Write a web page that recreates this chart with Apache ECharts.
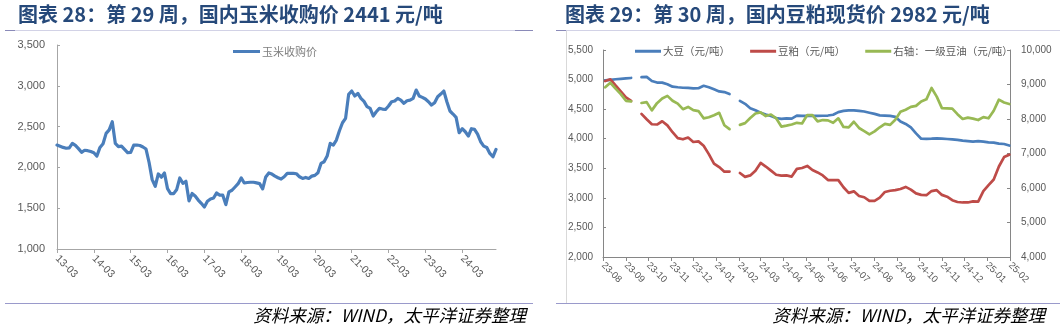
<!DOCTYPE html>
<html>
<head>
<meta charset="utf-8">
<script src="https://cdn.jsdelivr.net/npm/echarts@6/dist/echarts.min.js"></script>
<style>
html, body { margin: 0; padding: 0; background: #ffffff; }
#chart { width: 1060px; height: 331px; }
</style>
</head>
<body>
<div id="chart"></div>
<script>
// ---- Corn purchase price, monthly, 2013-03 .. 2025-02 ----
const cornMonths = [
  '13-03','13-04','13-05','13-06','13-07','13-08','13-09','13-10','13-11','13-12','14-01','14-02',
  '14-03','14-04','14-05','14-06','14-07','14-08','14-09','14-10','14-11','14-12','15-01','15-02',
  '15-03','15-04','15-05','15-06','15-07','15-08','15-09','15-10','15-11','15-12','16-01','16-02',
  '16-03','16-04','16-05','16-06','16-07','16-08','16-09','16-10','16-11','16-12','17-01','17-02',
  '17-03','17-04','17-05','17-06','17-07','17-08','17-09','17-10','17-11','17-12','18-01','18-02',
  '18-03','18-04','18-05','18-06','18-07','18-08','18-09','18-10','18-11','18-12','19-01','19-02',
  '19-03','19-04','19-05','19-06','19-07','19-08','19-09','19-10','19-11','19-12','20-01','20-02',
  '20-03','20-04','20-05','20-06','20-07','20-08','20-09','20-10','20-11','20-12','21-01','21-02',
  '21-03','21-04','21-05','21-06','21-07','21-08','21-09','21-10','21-11','21-12','22-01','22-02',
  '22-03','22-04','22-05','22-06','22-07','22-08','22-09','22-10','22-11','22-12','23-01','23-02',
  '23-03','23-04','23-05','23-06','23-07','23-08','23-09','23-10','23-11','23-12','24-01','24-02',
  '24-03','24-04','24-05','24-06','24-07','24-08','24-09','24-10','24-11','24-12','25-01','25-02'
];
const cornPrice = [
  2274, 2260, 2245, 2235, 2240, 2294, 2270, 2230, 2185, 2210, 2205, 2195,
  2180, 2139, 2245, 2290, 2417, 2460, 2560, 2294, 2255, 2260, 2220, 2180,
  2185, 2274, 2274, 2268, 2250, 2225, 2060, 1850, 1769, 1920, 1880, 1932,
  1740, 1679, 1679, 1730, 1871, 1805, 1830, 1590, 1680, 1650, 1600, 1560,
  1515, 1585, 1613, 1625, 1687, 1660, 1660, 1544, 1700, 1720, 1760, 1800,
  1871, 1809, 1815, 1818, 1818, 1810, 1801, 1736, 1883, 1932, 1918, 1893,
  1873, 1857, 1885, 1926, 1926, 1926, 1922, 1885, 1865, 1877, 1865, 1893,
  1902, 1934, 2049, 2069, 2139, 2294, 2274, 2335, 2449, 2547, 2601, 2895,
  2936, 2875, 2907, 2846, 2809, 2744, 2723, 2630, 2682, 2723, 2715, 2710,
  2752, 2805, 2813, 2846, 2825, 2785, 2817, 2825, 2846, 2948, 2875, 2858,
  2838, 2805, 2764, 2793, 2866, 2899, 2936, 2805, 2691, 2654, 2613, 2425,
  2474, 2437, 2384, 2474, 2466, 2408, 2314, 2261, 2245, 2171, 2130, 2220
];
const cornYTicks = [1000, 1500, 2000, 2500, 3000, 3500];

// ---- Soybean complex spot prices, weekly (null = no quote that week) ----
const weekDates = [
  '2023-08-04','2023-08-11','2023-08-18','2023-08-25','2023-09-01','2023-09-08','2023-09-15','2023-09-22',
  '2023-09-29','2023-10-06','2023-10-13','2023-10-20','2023-10-27','2023-11-03','2023-11-10','2023-11-17',
  '2023-11-24','2023-12-01','2023-12-08','2023-12-15','2023-12-22','2023-12-29',
  '2024-01-05','2024-01-12','2024-01-19','2024-01-26','2024-02-02','2024-02-09','2024-02-16','2024-02-23',
  '2024-03-01','2024-03-08','2024-03-15','2024-03-22','2024-03-29','2024-04-05','2024-04-12','2024-04-19',
  '2024-04-26','2024-05-03','2024-05-10','2024-05-17','2024-05-24','2024-05-31','2024-06-07','2024-06-14',
  '2024-06-21','2024-06-28','2024-07-05','2024-07-12','2024-07-19','2024-07-26','2024-08-02','2024-08-09',
  '2024-08-16','2024-08-23','2024-08-30','2024-09-06','2024-09-13','2024-09-20','2024-09-27','2024-10-04',
  '2024-10-11','2024-10-18','2024-10-25','2024-11-01','2024-11-08','2024-11-15','2024-11-22','2024-11-29',
  '2024-12-06','2024-12-13','2024-12-20','2024-12-27',
  '2025-01-03','2025-01-10','2025-01-17','2025-01-24','2025-01-31'
];
const soybean = [
  4985, 4995, 5005, 5012, 5020, 5027, null, 5040, 5045, 4975,
  4950, 4948, 4920, 4880, 4870, 4862, 4858, 4852, 4855, 4895,
  4870, 4835, 4800, 4788, 4755, null, 4640, 4590, 4515, 4480,
  4440, 4410, 4385, 4350, 4335, 4345, 4340, 4390, 4385, 4385,
  4385, 4385, 4388, 4392, 4405, 4450, 4470, 4478, 4480, 4470,
  4460, 4440, 4420, 4395, 4390, 4385, 4370, 4290, 4250, 4190,
  4090, 4000, 3998, 4000, 4005, 4000, 3995, 3990, 3980, 3967,
  3958, 3950, 3958, 3950, 3938, 3933, 3916, 3911, 3885
];
const soyMeal = [
  4975, 5005, 4900, 4800, 4700, 4640, null, 4420, 4330, 4245,
  4240, 4295, 4225, 4110, 4010, 3990, 4020, 3945, 3955, 3880,
  3740, 3580, 3520, 3443, 3445, null, 3420, 3355, 3380, 3460,
  3590, 3530, 3460, 3390, 3375, 3380, 3360, 3490, 3505, 3540,
  3470, 3430, 3380, 3300, 3300, 3300, 3180, 3085, 3110, 3032,
  3010, 2948, 2950, 3005, 3100, 3120, 3130, 3150, 3185, 3140,
  3075, 3050, 3045, 3115, 3130, 3050, 3020, 2960, 2930, 2922,
  2922, 2940, 2935, 3115, 3215, 3310, 3530, 3690, 3730
];
const soyOil = [
  8920, 9050, 8880, 8720, 8528, 8512, null, 8465, 8490, 8250,
  8460, 8595, 8670, 8530, 8445, 8285, 8350, 8255, 8230, 8020,
  8050, 8110, 8180, 7820, 7705, null, 7830, 7880, 8030, 8160,
  8190, 8085, 8130, 8020, 7780, 7808, 7840, 7890, 7870, 8116,
  8110, 7930, 7970, 7960, 7890, 8020, 7770, 7755, 7920, 7740,
  7650, 7555, 7640, 7760, 7860, 7830, 7980, 8210, 8270, 8350,
  8380, 8510, 8570, 8900, 8650, 8315, 8308, 8300, 8140, 8000,
  8040, 8010, 7970, 8055, 8020, 8240, 8560, 8480, 8435
];
const soyLeftTicks = [2000, 2500, 3000, 3500, 4000, 4500, 5000, 5500];
const soyRightTicks = [4000, 5000, 6000, 7000, 8000, 9000, 10000];
const soyRange = ['2023-08-01', '2025-02-01'];

const titleLeft = '图表 28：第 29 周，国内玉米收购价 2441 元/吨';
const titleRight = '图表 29：第 30 周，国内豆粕现货价 2982 元/吨';
const sourceText = '资料来源：WIND，太平洋证券整理';

const BLUE = '#4a7ebb', RED = '#be4b48', GREEN = '#98b954';
const LABEL = '#595959', AXIS = '#a6a6a6';
const FONT = '"Liberation Sans", Arial, sans-serif';
const CJK = '"Noto Sans CJK SC", sans-serif';

const thousands = v => Number(v).toLocaleString('en-US');
const yyMM = v => {
  const d = new Date(v);
  return String(d.getFullYear()).slice(2) + '-' + String(d.getMonth() + 1).padStart(2, '0');
};
const pair = arr => weekDates.map((d, i) => [d, arr[i]]);
const MONTH = 31 * 24 * 3600 * 1000;

function valueAxis(ticks, gridIndex, position, fontSize, margin, axisColor) {
  return {
    type: 'value', gridIndex, position,
    min: ticks[0], max: ticks[ticks.length - 1], interval: ticks[1] - ticks[0],
    splitLine: { show: false },
    axisLine: { show: true, lineStyle: { color: axisColor, width: 1 } },
    axisTick: { show: true, inside: true, length: 3, lineStyle: { color: axisColor } },
    axisLabel: { color: LABEL, fontSize, fontFamily: FONT, margin, formatter: thousands }
  };
}

const chart = echarts.init(document.getElementById('chart'), null, { renderer: 'canvas' });

chart.setOption({
  animation: false,
  backgroundColor: '#ffffff',
  grid: [
    { left: 57, top: 45, width: 439, height: 204 },
    { left: 603, top: 50, width: 407, height: 207 }
  ],
  legend: [
    {
      left: 228, top: 41, icon: 'rect', itemWidth: 27, itemHeight: 3,
      data: ['玉米收购价'],
      textStyle: { color: '#7f7f7f', fontSize: 11, fontFamily: CJK, padding: [0, 0, 0, -3] }
    },
    {
      left: 630, top: 41, icon: 'rect', itemWidth: 26, itemHeight: 3, itemGap: 20,
      data: ['大豆（元/吨）', '豆粕（元/吨）', '右轴：一级豆油（元/吨）'],
      textStyle: { color: LABEL, fontSize: 10.5, fontFamily: CJK, padding: [0, 0, 0, -3] }
    }
  ],
  xAxis: [
    {
      type: 'category', gridIndex: 0, data: cornMonths, boundaryGap: false,
      axisLine: { lineStyle: { color: AXIS } },
      axisTick: { show: true, interval: 11, length: 4, lineStyle: { color: AXIS } },
      axisLabel: { interval: 11, rotate: -45, color: LABEL, fontSize: 10.5, fontFamily: FONT, margin: 8 }
    },
    {
      type: 'time', gridIndex: 1, min: soyRange[0], max: soyRange[1],
      minInterval: MONTH, maxInterval: MONTH,
      splitLine: { show: false },
      axisLine: { lineStyle: { color: '#868686' } },
      axisTick: { show: true, length: 4, lineStyle: { color: '#868686' } },
      axisLabel: { rotate: -45, color: LABEL, fontSize: 9.5, fontFamily: FONT, margin: 7,
                   formatter: yyMM, hideOverlap: false, showMinLabel: true, showMaxLabel: true }
    }
  ],
  yAxis: [
    valueAxis(cornYTicks, 0, 'left', 11, 12, AXIS),
    valueAxis(soyLeftTicks, 1, 'left', 10, 10, '#868686'),
    valueAxis(soyRightTicks, 1, 'right', 10, 11, '#868686')
  ],
  series: [
    {
      name: '玉米收购价', type: 'line', xAxisIndex: 0, yAxisIndex: 0,
      data: cornPrice, showSymbol: false, symbol: 'none',
      color: BLUE, lineStyle: { width: 3.2, color: BLUE, cap: 'round', join: 'round' }
    },
    {
      name: '大豆（元/吨）', type: 'line', xAxisIndex: 1, yAxisIndex: 1,
      data: pair(soybean), showSymbol: false, symbol: 'none', connectNulls: false,
      color: BLUE, lineStyle: { width: 2.7, color: BLUE, cap: 'round', join: 'round' }
    },
    {
      name: '豆粕（元/吨）', type: 'line', xAxisIndex: 1, yAxisIndex: 1,
      data: pair(soyMeal), showSymbol: false, symbol: 'none', connectNulls: false,
      color: RED, lineStyle: { width: 2.7, color: RED, cap: 'round', join: 'round' }
    },
    {
      name: '右轴：一级豆油（元/吨）', type: 'line', xAxisIndex: 1, yAxisIndex: 2,
      data: pair(soyOil), showSymbol: false, symbol: 'none', connectNulls: false,
      color: GREEN, lineStyle: { width: 2.7, color: GREEN, cap: 'round', join: 'round' }
    }
  ],
  graphic: [
    // panel headings
    { type: 'text', left: 18, top: 4, silent: true,
      style: { text: titleLeft, fill: '#26497a', font: 'bold 20px ' + CJK } },
    { type: 'text', left: 565, top: 4, silent: true,
      style: { text: titleRight, fill: '#26497a', font: 'bold 20px ' + CJK } },
    // rules under the headings
    { type: 'line', silent: true, shape: { x1: 5, y1: 30.5, x2: 533, y2: 30.5 },
      style: { stroke: '#d2d2e6', lineWidth: 1 } },
    { type: 'line', silent: true, shape: { x1: 5, y1: 30.5, x2: 15, y2: 30.5 },
      style: { stroke: '#8a8ab8', lineWidth: 1 } },
    { type: 'line', silent: true, shape: { x1: 515, y1: 30.5, x2: 533, y2: 30.5 },
      style: { stroke: '#8a8ab8', lineWidth: 1 } },
    { type: 'line', silent: true, shape: { x1: 556, y1: 30.5, x2: 1060, y2: 30.5 },
      style: { stroke: '#d2d2e6', lineWidth: 1 } },
    { type: 'line', silent: true, shape: { x1: 556, y1: 30.5, x2: 566, y2: 30.5 },
      style: { stroke: '#8a8ab8', lineWidth: 1 } },
    // frame edge of the right panel
    { type: 'line', silent: true, shape: { x1: 566.5, y1: 31, x2: 566.5, y2: 303 },
      style: { stroke: '#d9d9d9', lineWidth: 1 } },
    // rules above the source notes
    { type: 'line', silent: true, shape: { x1: 5, y1: 303.5, x2: 533, y2: 303.5 },
      style: { stroke: '#9a9acb', lineWidth: 1.2 } },
    { type: 'line', silent: true, shape: { x1: 556, y1: 303.5, x2: 1060, y2: 303.5 },
      style: { stroke: '#9a9acb', lineWidth: 1.2 } },
    // source notes
    { type: 'text', right: 534, top: 307, silent: true,
      style: { text: sourceText, fill: '#000000', font: 'italic 17.5px ' + CJK } },
    { type: 'text', right: 15, top: 307, silent: true,
      style: { text: sourceText, fill: '#000000', font: 'italic 17.5px ' + CJK } }
  ]
});
</script>
</body>
</html>
